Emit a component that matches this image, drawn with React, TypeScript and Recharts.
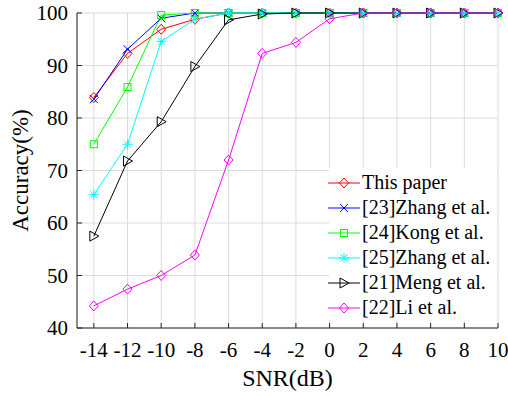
import React from 'react';
import { LineChart, Line, XAxis, YAxis, CartesianGrid, Legend } from 'recharts';

const snr = [-14, -12, -10, -8, -6, -4, -2, 0, 2, 4, 6, 8, 10];
const thisPaper = [83.9, 92.3, 96.9, 98.8, 100, 100, 100, 100, 100, 100, 100, 100, 100];
const zhang23 = [83.6, 93.1, 99.0, 100, 100, 100, 100, 100, 100, 100, 100, 100, 100];
const kong24 = [75.0, 85.9, 99.6, 100, 100, 100, 100, 100, 100, 100, 100, 100, 100];
const zhang25 = [65.4, 75.0, 94.6, 98.8, 100, 100, 100, 100, 100, 100, 100, 100, 100];
const meng21 = [57.5, 71.8, 79.3, 89.8, 98.7, 99.8, 100, 100, 100, 100, 100, 100, 100];
const li22 = [44.2, 47.4, 50.0, 53.9, 72.0, 92.3, 94.4, 98.9, 100, 100, 100, 100, 100];

const xTicks = [-14, -12, -10, -8, -6, -4, -2, 0, 2, 4, 6, 8, 10];
const yTicks = [40, 50, 60, 70, 80, 90, 100];

const FONT = '"Liberation Serif", "Times New Roman", serif';

type Shape = 'diamond' | 'x' | 'square' | 'star' | 'triangle';

const SERIES: { key: string; name: string; color: string; shape: Shape }[] = [
  { key: 'thisPaper', name: 'This paper', color: '#ff0000', shape: 'diamond' },
  { key: 'zhang23', name: '[23]Zhang et al.', color: '#0000ff', shape: 'x' },
  { key: 'kong24', name: '[24]Kong et al.', color: '#00ff00', shape: 'square' },
  { key: 'zhang25', name: '[25]Zhang et al.', color: '#00ffff', shape: 'star' },
  { key: 'meng21', name: '[21]Meng et al.', color: '#000000', shape: 'triangle' },
  { key: 'li22', name: '[22]Li et al.', color: '#ff00ff', shape: 'diamond' },
];

const data = snr.map((x, i) => ({
  snr: x,
  thisPaper: thisPaper[i],
  zhang23: zhang23[i],
  kong24: kong24[i],
  zhang25: zhang25[i],
  meng21: meng21[i],
  li22: li22[i],
}));

function Marker({ cx, cy, shape, color }: { cx: number; cy: number; shape: Shape; color: string }) {
  const p = { fill: 'none', stroke: color, strokeWidth: 1 };
  switch (shape) {
    case 'diamond':
      return <polygon points={`${cx},${cy - 5} ${cx + 4.5},${cy} ${cx},${cy + 5} ${cx - 4.5},${cy}`} {...p} />;
    case 'square':
      return <rect x={cx - 3.5} y={cy - 3.5} width={7} height={7} {...p} />;
    case 'x':
      return <path d={`M${cx - 4},${cy - 4}L${cx + 4},${cy + 4}M${cx - 4},${cy + 4}L${cx + 4},${cy - 4}`} {...p} />;
    case 'star':
      return (
        <path
          d={`M${cx - 5},${cy}L${cx + 5},${cy}M${cx},${cy - 5}L${cx},${cy + 5}M${cx - 3.6},${cy - 3.6}L${cx + 3.6},${cy + 3.6}M${cx - 3.6},${cy + 3.6}L${cx + 3.6},${cy - 3.6}`}
          {...p}
        />
      );
    case 'triangle':
      return <polygon points={`${cx - 4},${cy - 5} ${cx + 5},${cy} ${cx - 4},${cy + 5}`} {...p} />;
  }
}

function renderLegend(props: any) {
  const payload = [...(props.payload || [])].sort(
    (a: any, b: any) =>
      SERIES.findIndex((s) => s.key === a.dataKey) - SERIES.findIndex((s) => s.key === b.dataKey)
  );
  return (
    <div style={{ background: '#fff', paddingTop: 2, fontFamily: FONT, fontSize: 20, color: '#000' }}>
      {payload.map((entry: any) => {
        const s = SERIES.find((d) => d.key === entry.dataKey)!;
        return (
          <div key={s.key} style={{ display: 'flex', alignItems: 'center', height: 25, whiteSpace: 'nowrap' }}>
            <svg width={31} height={14} style={{ overflow: 'visible' }}>
              <line x1={-1} y1={7} x2={31} y2={7} stroke={s.color} strokeWidth={1} />
              <Marker cx={15} cy={7} shape={s.shape} color={s.color} />
            </svg>
            <span style={{ marginLeft: 2, lineHeight: '25px' }}>{s.name}</span>
          </div>
        );
      })}
    </div>
  );
}

function YLabel(props: any) {
  const vb = props.viewBox || { x: 0, y: 0, width: 0, height: 0 };
  const cy = vb.y + vb.height / 2;
  return (
    <text
      x={20}
      y={cy}
      transform={`rotate(-90 20 ${cy})`}
      textAnchor="middle"
      dominantBaseline="central"
      fontFamily={FONT}
      fontSize={23}
      fill="#000"
    >
      Accuracy(%)
    </text>
  );
}

const tickStyle = { fill: '#000', fontSize: 21, fontFamily: FONT };
const frame = { stroke: '#262626', strokeWidth: 1 };

export default function App() {
  return (
    <div style={{ position: 'absolute', left: 0, top: 0, background: '#fff' }}>
      <LineChart
        width={508}
        height={396}
        data={data}
        margin={{ top: 13, right: 10, bottom: 0, left: 0 }}
        style={{ fontFamily: FONT }}
      >
        <CartesianGrid stroke="#dcdcdc" strokeWidth={1} />
        <XAxis
          dataKey="snr"
          type="number"
          domain={[-15, 10]}
          ticks={xTicks}
          height={68}
          axisLine={frame}
          tickLine={frame}
          tickSize={-5}
          tickMargin={19}
          tick={tickStyle}
          interval={0}
          label={{ value: 'SNR(dB)', position: 'insideBottom', offset: 10, fontSize: 24, fontFamily: FONT, fill: '#000' }}
        />
        <XAxis
          xAxisId="top"
          orientation="top"
          dataKey="snr"
          type="number"
          domain={[-15, 10]}
          ticks={xTicks}
          height={0}
          axisLine={frame}
          tickLine={frame}
          tickSize={-5}
          tick={false}
        />
        <YAxis
          type="number"
          domain={[40, 100]}
          ticks={yTicks}
          width={77}
          axisLine={frame}
          tickLine={frame}
          tickSize={-5}
          tickMargin={14}
          tick={tickStyle}
          interval={0}
          label={<YLabel />}
        />
        <YAxis
          yAxisId="right"
          orientation="right"
          type="number"
          domain={[40, 100]}
          ticks={yTicks}
          width={0}
          axisLine={frame}
          tickLine={frame}
          tickSize={-5}
          tick={false}
        />
        <Legend
          layout="vertical"
          align="center"
          verticalAlign="middle"
          content={renderLegend}
          wrapperStyle={{ left: 329, top: 168, width: 168, height: 157 }}
        />
        {SERIES.map((s) => (
          <Line
            key={s.key}
            dataKey={s.key}
            name={s.name}
            stroke={s.color}
            strokeWidth={1}
            isAnimationActive={false}
            dot={(props: any) => (
              <Marker key={`${s.key}-${props.index}`} cx={props.cx} cy={props.cy} shape={s.shape} color={s.color} />
            )}
            activeDot={false}
          />
        ))}
      </LineChart>
    </div>
  );
}
